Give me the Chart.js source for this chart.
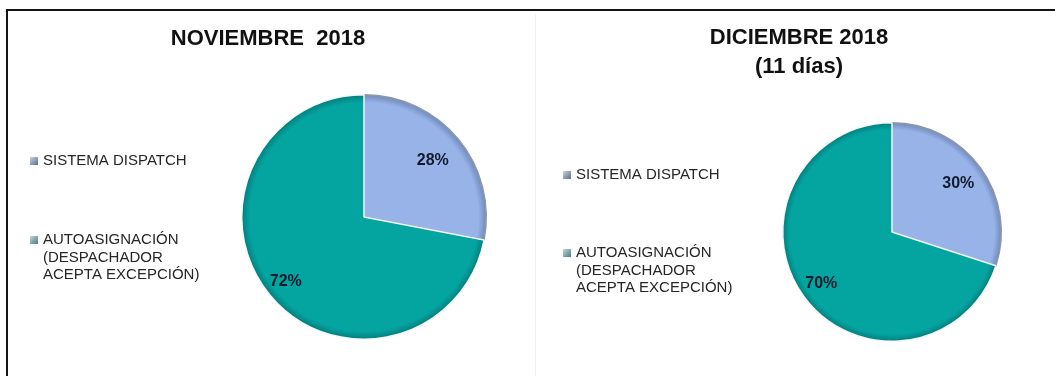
<!DOCTYPE html>
<html>
<head>
<meta charset="utf-8">
<script src="https://cdn.jsdelivr.net/npm/chart.js@4/dist/chart.umd.min.js"></script>
<style>
  body { margin: 0; background: #fff; }
  #frame {
    position: absolute; left: 6px; top: 9px; width: 1049px; height: 367px;
    border-left: 2.5px solid #151515; border-top: 2.5px solid #151515;
  }
  #divider { position: absolute; left: 535px; top: 14px; width: 1px; height: 362px; background: #f1f1f1; }
  canvas { position: absolute; top: 11px; }
  #nov { left: 8px; }
  #dic { left: 536px; }
</style>
</head>
<body>
<div id="frame"></div>
<div id="divider"></div>
<canvas id="nov" width="527" height="365"></canvas>
<canvas id="dic" width="519" height="365"></canvas>
<script>

// categorias y valores (%)
var categorias = ["SISTEMA DISPATCH", "AUTOASIGNACIÓN (DESPACHADOR ACEPTA EXCEPCIÓN)"];
var leyendaLineas = [["SISTEMA DISPATCH"], ["AUTOASIGNACIÓN", "(DESPACHADOR", "ACEPTA EXCEPCIÓN)"]];
var noviembre = [28, 72];
var diciembre = [30, 70];
var tituloNov = ["NOVIEMBRE  2018"];
var tituloDic = ["DICIEMBRE 2018", "(11 días)"];

var colores = ["#97B3E8", "#04A4A1"];
var bordes = ["#6f86b8", "#037b78"];

// relleno con un borde oscurecido para dar algo de relieve
function relleno(ctx){
  var i = ctx.dataIndex;
  var area = ctx.chart.chartArea;
  if (!area || i === undefined) return colores[i || 0];
  var cx = (area.left + area.right) / 2, cy = (area.top + area.bottom) / 2;
  var r = Math.min(area.right - area.left, area.bottom - area.top) / 2;
  var g = ctx.chart.ctx.createRadialGradient(cx, cy, 0, cx, cy, r);
  g.addColorStop(0, colores[i]);
  g.addColorStop(0.93, colores[i]);
  g.addColorStop(1, bordes[i]);
  return g;
}

// titulo, leyenda y porcentajes dibujados a mano
var decor = {
  id: "decor",
  afterDatasetsDraw: function(chart, args, o){
    var c = chart.ctx;
    c.save();
    c.textAlign = "center";
    c.textBaseline = "middle";
    c.fillStyle = "#111";
    c.font = "bold 22px 'Liberation Sans', Arial, sans-serif";
    o.titulo.forEach(function(t, k){ c.fillText(t, o.tituloX, o.tituloY + k * 29); });

    c.textAlign = "left";
    c.font = "15px 'Liberation Sans', Arial, sans-serif";
    leyendaLineas.forEach(function(lineas, i){
      var y0 = o.leyendaY[i];
      var g = c.createLinearGradient(o.leyendaX, y0 - 4, o.leyendaX + 8, y0 + 4);
      g.addColorStop(0, "#c9d2dc");
      g.addColorStop(1, i == 0 ? "#5a6e8c" : "#3f7f82");
      c.fillStyle = g;
      c.fillRect(o.leyendaX, y0 - 4, 8, 8);
      c.fillStyle = "#262626";
      lineas.forEach(function(l, k){ c.fillText(l, o.leyendaX + 13, y0 + k * 17.5); });
    });

    c.textAlign = "center";
    c.font = "bold 16px 'Liberation Sans', Arial, sans-serif";
    c.fillStyle = "#141a2e";
    var meta = chart.getDatasetMeta(0);
    meta.data.forEach(function(arc, i){
      var p = arc.getProps(["x", "y", "startAngle", "endAngle", "outerRadius"], true);
      var a = (p.startAngle + p.endAngle) / 2;
      var r = p.outerRadius * o.radioEtiqueta[i];
      c.fillText(chart.data.datasets[0].data[i] + "%", p.x + Math.cos(a) * r, p.y + Math.sin(a) * r);
    });
    c.restore();
  }
};

function pastel(id, valores, titulo, padding, deco){
  return new Chart(document.getElementById(id), {
    type: "pie",
    data: {
      labels: categorias,
      datasets: [{
        data: valores,
        backgroundColor: relleno,
        borderColor: ["#8c98a6", "#f4f8f8"],
        borderWidth: 1.5
      }]
    },
    options: {
      responsive: false,
      animation: false,
      layout: { padding: padding },
      plugins: {
        legend: { display: false },
        title: { display: false },
        tooltip: { enabled: false },
        decor: Object.assign({ titulo: titulo }, deco)
      }
    },
    plugins: [decor]
  });
}

pastel("nov", noviembre, tituloNov,
  { left: 233, top: 83, right: 48, bottom: 36 },
  { tituloX: 260, tituloY: 28, leyendaX: 22, leyendaY: [150, 229], radioEtiqueta: [0.73, 0.83] });

pastel("dic", diciembre, tituloDic,
  { left: 246, top: 111, right: 53, bottom: 34 },
  { tituloX: 263, tituloY: 27, leyendaX: 27, leyendaY: [164, 242], radioEtiqueta: [0.75, 0.8] });

</script>
</body>
</html>
